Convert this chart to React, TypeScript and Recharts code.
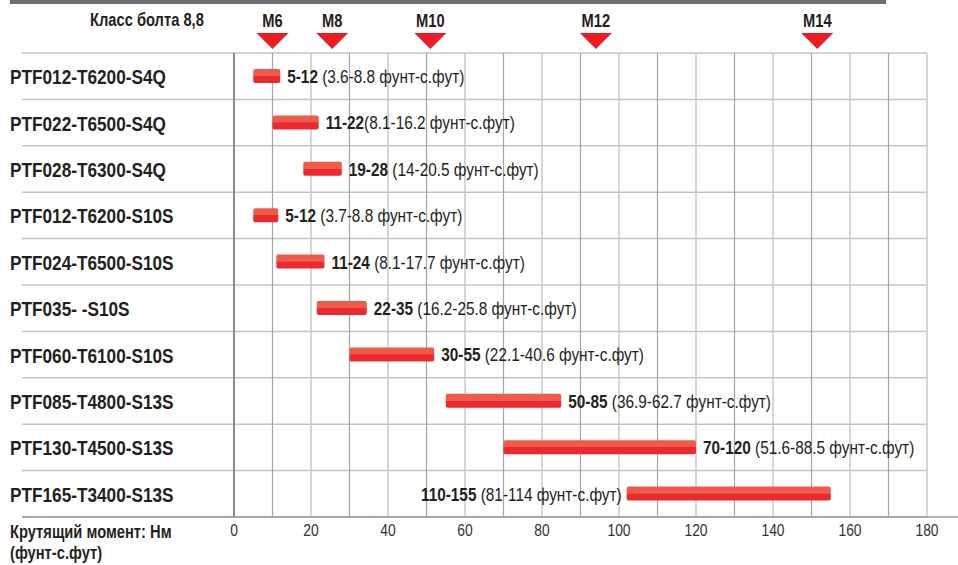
import React from 'react';
import { BarChart, Bar, XAxis, YAxis, CartesianGrid, ReferenceLine, LabelList } from 'recharts';

const products = [
  'PTF012-T6200-S4Q', 'PTF022-T6500-S4Q', 'PTF028-T6300-S4Q', 'PTF012-T6200-S10S',
  'PTF024-T6500-S10S', 'PTF035- -S10S', 'PTF060-T6100-S10S', 'PTF085-T4800-S13S',
  'PTF130-T4500-S13S', 'PTF165-T3400-S13S',
];
// bar extents as drawn (Nm)
const torqueFrom = [5, 10, 18, 5, 11, 21.5, 30, 55, 70, 102];
const torqueTo = [12, 22, 28, 11.5, 23.5, 34.5, 52, 85, 120, 155];
const nmLabels = ['5-12', '11-22', '19-28', '5-12', '11-24', '22-35', '30-55', '50-85', '70-120', '110-155'];
const ftLbLabels = [
  ' (3.6-8.8 фунт-с.фут)', '(8.1-16.2 фунт-с.фут)', ' (14-20.5 фунт-с.фут)', ' (3.7-8.8 фунт-с.фут)',
  ' (8.1-17.7 фунт-с.фут)', ' (16.2-25.8 фунт-с.фут)', ' (22.1-40.6 фунт-с.фут)', ' (36.9-62.7 фунт-с.фут)',
  ' (51.6-88.5 фунт-с.фут)', ' (81-114 фунт-с.фут)',
];
const boltSizes = ['M6', 'M8', 'M10', 'M12', 'M14'];
const boltTorque = [10, 25.5, 51, 94, 151.5];
const xDomain = [0, 180];
const xTicks = [0, 20, 40, 60, 80, 100, 120, 140, 160, 180];
const minorGrid = [10, 30, 50, 70, 90, 110, 130, 150, 170];
const majorGrid = [20, 40, 60, 80, 100, 120, 140, 160, 180];

const data = products.map((name, i) => ({ name, range: [torqueFrom[i], torqueTo[i]] }));

// no narrow face installed: squeeze Liberation Sans horizontally
const FONT = "'Liberation Sans', Arial, sans-serif";
const NARROW = 0.84;
const INK = '#231f20';
const RED = '#ed1c24';

const xCoords = (values: number[]) => ({ offset }: any) =>
  values.map((v) => offset.left + ((v - xDomain[0]) / (xDomain[1] - xDomain[0])) * offset.width);

const Narrow = ({ x, y, size, bold, anchor, fill, children }: any) => (
  <text transform={`translate(${x},${y}) scale(${NARROW},1)`} textAnchor={anchor || 'start'}
    fontFamily={FONT} fontSize={size} fontWeight={bold ? 'bold' : 'normal'} fill={fill || INK}>
    {children}
  </text>
);

const ProductTick = (props: any) => (
  <Narrow x={10} y={props.y + 8} size={20.5} bold>{props.payload.value}</Narrow>
);

const ValueTick = (props: any) => (
  <Narrow x={props.x} y={props.y + 13} size={16.5} anchor="middle" fill="#333">{props.payload.value}</Narrow>
);

const BarShape = (props: any) => {
  const { x, y, width, height } = props;
  return <rect x={x} y={y} width={width} height={height} rx={2} ry={2} fill="url(#barFill)" />;
};

const RangeLabel = (props: any) => {
  const { x, y, width, height, index } = props;
  const left = torqueTo[index] > 140;
  const tx = left ? x - 5 : x + width + 7;
  return (
    <Narrow x={tx} y={y + height / 2 + 7} size={18.3} anchor={left ? 'end' : 'start'}>
      <tspan fontWeight="bold">{nmLabels[index]}</tspan>
      <tspan>{ftLbLabels[index]}</tspan>
    </Narrow>
  );
};

const BoltMarker = (props: any) => {
  const { viewBox, text } = props;
  const cx = viewBox.x;
  const top = viewBox.y;
  return (
    <g>
      <Narrow x={cx} y={top - 26} size={17.5} bold anchor="middle">{text}</Narrow>
      <polygon points={`${cx - 16},${top - 20} ${cx + 16},${top - 20} ${cx},${top - 4}`} fill={RED} />
    </g>
  );
};

const narrowDiv = { transform: `scaleX(${NARROW})`, transformOrigin: 'left top', whiteSpace: 'nowrap' as const };

export default function App() {
  return (
    <div style={{ position: 'relative', width: 958, height: 565, background: '#fff', fontFamily: FONT }}>
      <style>{'body{margin:0}'}</style>
      <div style={{ position: 'absolute', left: 10, top: 0, width: 876, height: 4, background: '#6d6e71' }} />
      <div style={{ ...narrowDiv, position: 'absolute', left: 90, top: 10, fontSize: 17.5, fontWeight: 'bold', color: INK }}>
        Класс болта 8,8
      </div>
      <div style={{ ...narrowDiv, position: 'absolute', left: 10, top: 522, fontSize: 17.5, fontWeight: 'bold', color: INK, lineHeight: '21px' }}>
        Крутящий момент: Нм<br />(фунт-с.фут)
      </div>
      <div style={{ position: 'absolute', left: 0, top: 0 }}>
        <BarChart width={958} height={565} layout="vertical" data={data} barSize={14}
          margin={{ top: 53, right: 31, bottom: 18, left: 22 }}>
          <defs>
            <linearGradient id="barFill" x1="0" y1="0" x2="0" y2="1">
              <stop offset="0" stopColor="#f05a4b" />
              <stop offset="0.48" stopColor="#f05a4b" />
              <stop offset="0.52" stopColor="#ec2931" />
              <stop offset="1" stopColor="#ec2931" />
            </linearGradient>
          </defs>
          <CartesianGrid vertical={false} x={22} width={905} stroke="#c4c4c4" strokeWidth={1.5}
            horizontalCoordinatesGenerator={({ offset }: any) =>
              products.concat(['']).map((_, k) => offset.top + (k * offset.height) / products.length)} />
          <CartesianGrid horizontal={false} stroke="#c8c8c8" strokeWidth={1.5} verticalCoordinatesGenerator={xCoords(majorGrid)} />
          <CartesianGrid horizontal={false} stroke="#a5a5a5" strokeWidth={1.2} verticalCoordinatesGenerator={xCoords(minorGrid)} />
          <CartesianGrid vertical={false} x={22} width={936} stroke="#9a9a9a" strokeWidth={1.5}
            horizontalCoordinatesGenerator={({ offset }: any) => [offset.top + offset.height]} />
          <XAxis type="number" domain={xDomain} ticks={xTicks} axisLine={false} tickLine={false} tickSize={0}
            tickMargin={6} height={30} interval={0} tick={<ValueTick />} />
          <YAxis type="category" dataKey="name" width={212} tickLine={false}
            axisLine={{ stroke: '#8c8c8c', strokeWidth: 2 }} tick={<ProductTick />} interval={0} />
          {boltSizes.map((s, i) => (
            <ReferenceLine key={s} x={boltTorque[i]} stroke="none" label={<BoltMarker text={s} />} />
          ))}
          <Bar dataKey="range" isAnimationActive={false} shape={<BarShape />}>
            <LabelList dataKey="range" content={<RangeLabel />} />
          </Bar>
        </BarChart>
      </div>
    </div>
  );
}
